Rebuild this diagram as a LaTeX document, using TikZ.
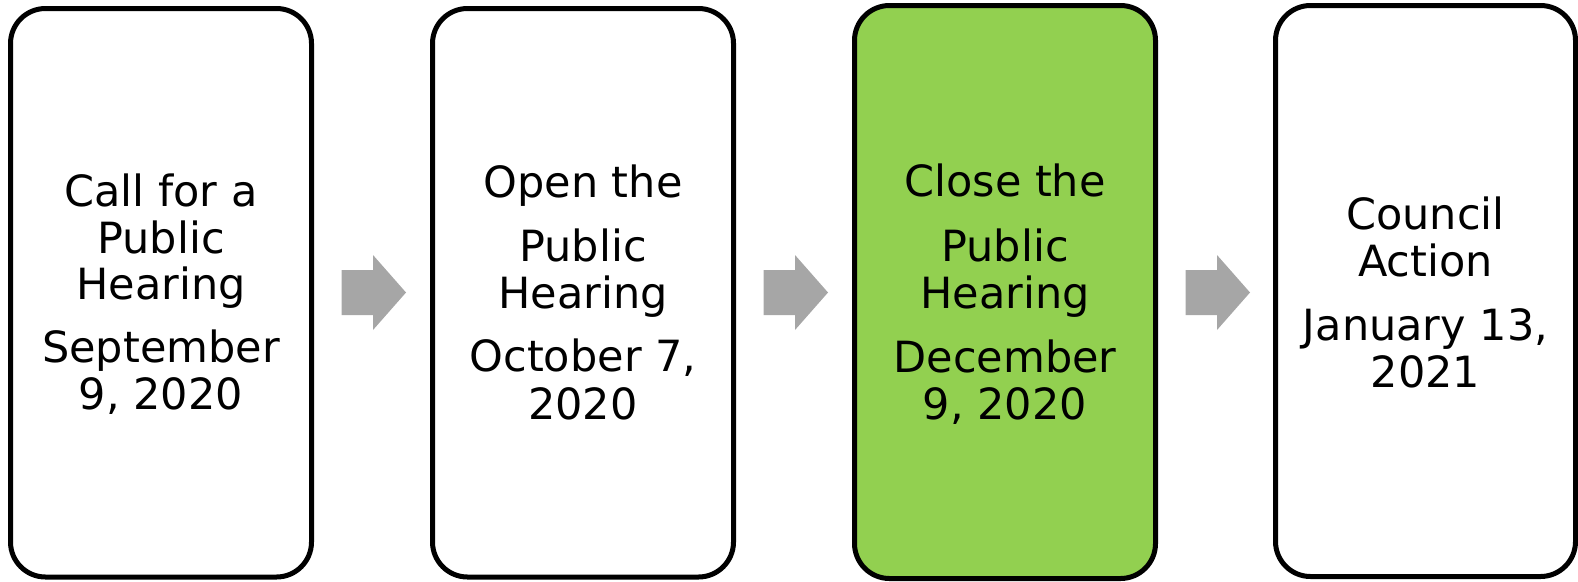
\documentclass[tikz,border=0pt]{standalone}
\usepackage{fontspec}
\setmainfont{DejaVu Sans}
\definecolor{hlgreen}{HTML}{92D050}
\definecolor{arrgray}{HTML}{A6A6A6}
\begin{document}
\begin{tikzpicture}[x=1pt,y=-1pt,
  stagebox/.style={draw=black, line width=5pt, rounded corners=35pt, fill=white, inner sep=0pt, outer sep=0pt},
  txt/.style={anchor=base, inner sep=0pt, font=\fontsize{43}{47}\selectfont},
  blockarrow/.style={fill=arrgray, draw=none}]
\useasboundingbox (0,0) rectangle (1578,581);
% boxes
\node[stagebox, minimum width=301pt, minimum height=568.5pt] (b1) at (161,292.75) {};
\node[stagebox, minimum width=301pt, minimum height=568.5pt] (b2) at (583,292.75) {};
\node[stagebox, fill=hlgreen, minimum width=301pt, minimum height=573pt] (b3) at (1005,292) {};
\node[stagebox, minimum width=300pt, minimum height=571pt] (b4) at (1425.5,291) {};
% arrows
\foreach \dx in {0,422,844}{
  \fill[blockarrow] (341.7+\dx,270) -- (373+\dx,270) -- (373+\dx,255) -- (406+\dx,292.5)
     -- (373+\dx,330) -- (373+\dx,315) -- (341.7+\dx,315) -- cycle;
}
% box 1 text
\node[txt] (t1a) at (161,206) {Call for a};
\node[txt] (t1b) at (161,253) {Public};
\node[txt] (t1c) at (161,299) {Hearing};
\node[txt] (t1d) at (161,362) {September};
\node[txt] (t1e) at (161,409) {9, 2020};
% box 2 text
\node[txt] (t2a) at (583,197) {Open the};
\node[txt] (t2b) at (583,261) {Public};
\node[txt] (t2c) at (583,308) {Hearing};
\node[txt] (t2d) at (583,371) {October 7,};
\node[txt] (t2e) at (583,419) {2020};
% box 3 text
\node[txt] (t3a) at (1005,196) {Close the};
\node[txt] (t3b) at (1005,261) {Public};
\node[txt] (t3c) at (1005,308) {Hearing};
\node[txt] (t3d) at (1005,372) {December};
\node[txt] (t3e) at (1005,419) {9, 2020};
% box 4 text
\node[txt] (t4a) at (1425.5,229) {Council};
\node[txt] (t4b) at (1425.5,276) {Action};
\node[txt] (t4c) at (1425.5,340) {January 13,};
\node[txt] (t4d) at (1425.5,387) {2021};
\end{tikzpicture}
\end{document}
